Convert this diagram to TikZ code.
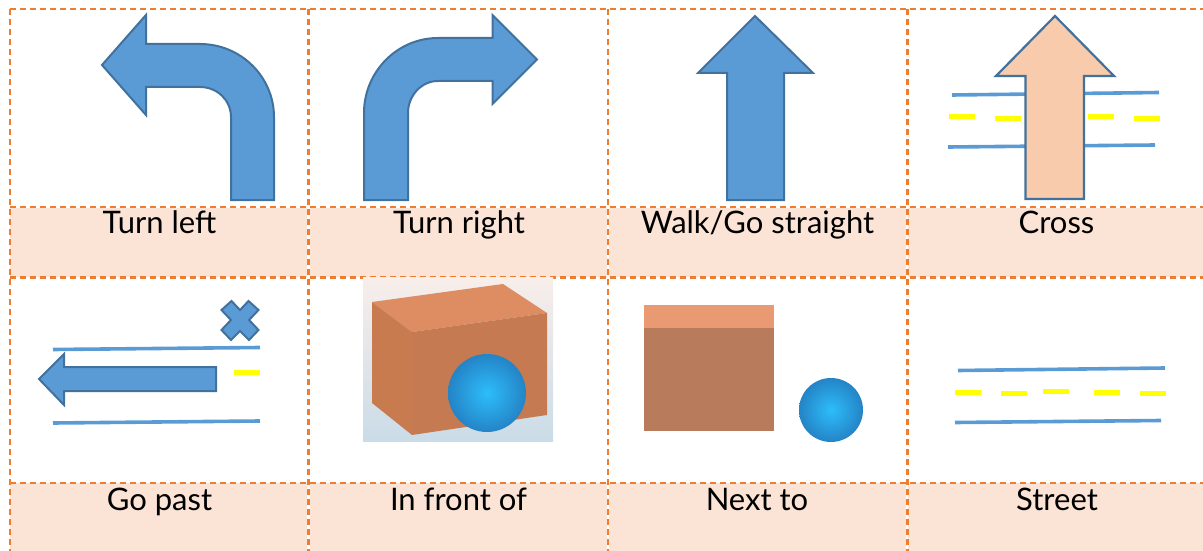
\documentclass[tikz,border=0pt]{standalone}
\usepackage{fontspec}
\setmainfont{Lato}
\usepackage{xcolor}
\definecolor{gridorange}{HTML}{ED7D31}
\definecolor{rowpeach}{HTML}{FBE4D5}
\definecolor{arrowblue}{HTML}{5B9BD5}
\definecolor{arrowedge}{HTML}{41719C}
\definecolor{crosspeach}{HTML}{F7CBAC}
\definecolor{roadyellow}{HTML}{FFFF00}
\definecolor{boxtop}{HTML}{DE8C62}
\definecolor{boxside}{HTML}{C97B50}
\definecolor{boxfront}{HTML}{C67A52}
\definecolor{nexttop}{HTML}{E99A72}
\definecolor{nextfront}{HTML}{B87C5C}
\definecolor{ballinner}{HTML}{2DBDFB}
\definecolor{ballouter}{HTML}{2484C6}
\definecolor{photolight}{HTML}{F8EEEA}
\definecolor{photoshade}{HTML}{CADCE8}
\tikzset{
    gridline/.style = {draw=gridorange, line width=2.2pt, dash pattern=on 6pt off 4pt},
    gapline/.style = {draw=white, line width=2.2pt},
    arrowshape/.style = {draw=arrowedge, fill=arrowblue, line width=2pt, line join=miter},
    crossarrow/.style = {draw=arrowedge, fill=crosspeach, line width=2.2pt, line join=miter},
    roadline/.style = {draw=arrowblue, line width=3.6pt},
    roaddash/.style = {draw=roadyellow, line width=5pt},
    celltext/.style = {anchor=base, inner sep=0pt, font=\fontsize{31}{36}\selectfont},
    ball/.style = {circle, inner sep=0pt, minimum size=#1, shading=radial, inner color=ballinner, outer color=ballouter},
}
\begin{document}
\begin{tikzpicture}[x=1pt,y=-1pt]
\useasboundingbox (0,0) rectangle (1203,551);
% label rows
\fill[rowpeach] (10,208) rectangle (1203,277);
\fill[rowpeach] (10,483) rectangle (1203,551);
\draw[gapline] (308.5,208) -- (308.5,277);
\draw[gapline] (607.7,208) -- (607.7,277);
\draw[gapline] (907.3,208) -- (907.3,277);
\draw[gapline] (308.5,483) -- (308.5,551);
\draw[gapline] (607.7,483) -- (607.7,551);
\draw[gapline] (907.3,483) -- (907.3,551);
% grid
\draw[gridline] (10,9) -- (1203,9);
\draw[gridline] (10,207) -- (1203,207);
\draw[gridline] (10,277.5) -- (1203,277.5);
\draw[gridline] (10,483) -- (1203,483);
\draw[gridline] (10,9) -- (10,551);
\draw[gridline] (308.5,9) -- (308.5,551);
\draw[gridline,line width=1.8pt] (607.7,9) -- (607.7,551);
\draw[gridline,line width=2.8pt] (907.3,9) -- (907.3,551);
% turn left
\draw[arrowshape] (102,65) -- (146,15) -- (146,44) -- (200,44)
    .. controls (241,44) and (274,77) .. (274,117) -- (274,200) -- (231,200) -- (231,117)
    .. controls (231,100) and (217,87) .. (200,87) -- (146,87) -- (146,115) -- cycle;
% turn right
\draw[arrowshape] (537,59.5) -- (492.5,15) -- (492.5,38) -- (438,38)
    .. controls (397,38) and (364,72) .. (364,113) -- (364,200) -- (408,200) -- (408,113)
    .. controls (408,96) and (421,81) .. (438,81) -- (492.5,81) -- (492.5,104) -- cycle;
% straight
\draw[arrowshape] (755,16) -- (813,73) -- (784,73) -- (784,200) -- (727,200) -- (727,73) -- (698,73) -- cycle;
% cross
\draw[roadline] (952,95) -- (1159,92.5);
\draw[roadline] (948,147) -- (1155,145);
\draw[roaddash] (949,116.5) -- (975,116.5);
\draw[roaddash] (995,118.5) -- (1021,118.5);
\draw[roaddash] (1088,116.5) -- (1114,116.5);
\draw[roaddash] (1134,118.5) -- (1160,118.5);
\draw[crossarrow] (1055,16) -- (1114,76) -- (1084,76) -- (1084,199) -- (1025.5,199) -- (1025.5,76) -- (996,76) -- cycle;
% go past
\draw[arrowshape] (221.5,310) -- (231.5,301) -- (240,310) -- (248.5,301) -- (258.5,310) -- (249,320) -- (258.5,330) -- (249,340) -- (240,331) -- (231,340) -- (221.5,330) -- (231,320) -- cycle;
\draw[roadline] (53,349.5) -- (260,347.5);
\draw[roadline] (53,423) -- (260,421);
\draw[roaddash] (234,372.5) -- (260,372.5);
\draw[arrowshape] (39,379) -- (64,354) -- (64,367) -- (216,367) -- (216,391) -- (64,391) -- (64,405) -- cycle;
% in front of
\shade[top color=photolight, bottom color=photoshade] (363,277) rectangle (553,441);
\fill[boxtop] (372,302) -- (503,284) -- (547,313) -- (412,332) -- cycle;
\fill[boxside] (372,302) -- (412,332) -- (412,435) -- (372,403) -- cycle;
\fill[boxfront] (412,332) -- (547,313) -- (547,415) -- (412,435) -- cycle;
\node[ball=78pt] (frontball) at (487,393) {};
% next to
\fill[nexttop] (644,305) rectangle (774,328);
\fill[nextfront] (644,328) rectangle (774,431);
\node[ball=64pt] (nextball) at (831,410) {};
% street
\draw[roadline] (958,370.5) -- (1165,368);
\draw[roadline] (955,422.5) -- (1161,420.5);
\draw[roaddash] (955,392.5) -- (981,392.5);
\draw[roaddash] (1001,393.5) -- (1027,393.5);
\draw[roaddash] (1043,391.5) -- (1069,391.5);
\draw[roaddash] (1094,392.5) -- (1120,392.5);
\draw[roaddash] (1140,393.5) -- (1166,393.5);
% labels
\node[celltext] at (159.5,233.5) (turnleft) {Turn left};
\node[celltext] at (459,233.5) (turnright) {Turn right};
\node[celltext] at (757.5,233.5) (straight) {Walk/Go straight};
\node[celltext] at (1056.5,233.5) (crossing) {Cross};
\node[celltext] at (159.5,510) (gopast) {Go past};
\node[celltext] at (458.5,510) (infront) {In front of};
\node[celltext] at (757,510) (nextto) {Next to};
\node[celltext] at (1057,510) (street) {Street};
\end{tikzpicture}
\end{document}
